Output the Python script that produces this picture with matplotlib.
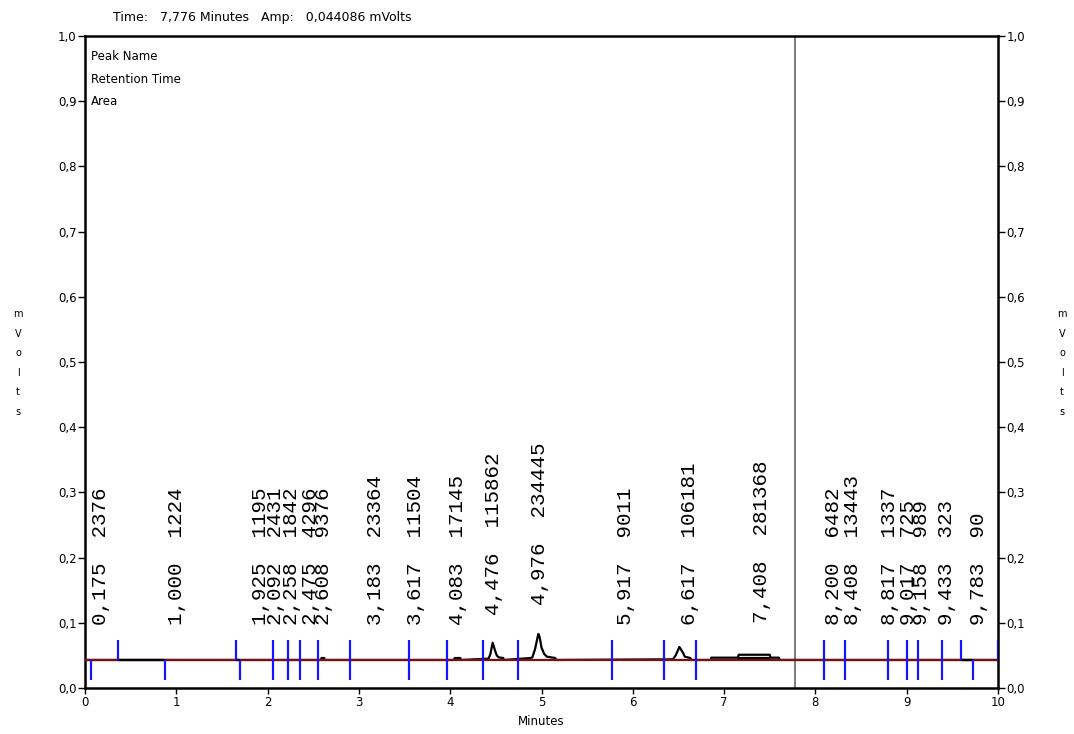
import numpy as np
import matplotlib
matplotlib.use("Agg")
import matplotlib.pyplot as plt
from matplotlib.ticker import FuncFormatter

# detector trace (minutes, mVolts)
trace_t = [0.0, 2.585, 2.59, 2.62, 2.625, 4.04, 4.05, 4.11, 4.12, 4.42, 4.44, 4.465,
           4.49, 4.51, 4.53, 4.58, 4.59, 4.88, 4.90, 4.93, 4.965, 4.98, 5.00, 5.03,
           5.06, 5.15, 5.16, 6.44, 6.47, 6.51, 6.55, 6.57, 6.63, 6.64, 6.85, 6.86,
           7.15, 7.16, 7.50, 7.51, 7.60, 7.61, 10.0]
trace_v = [0.043, 0.043, 0.046, 0.046, 0.043, 0.043, 0.046, 0.046, 0.043, 0.045, 0.052, 0.0695,
           0.058, 0.050, 0.047, 0.046, 0.043, 0.046, 0.047, 0.060, 0.083, 0.078, 0.062, 0.052,
           0.048, 0.046, 0.043, 0.044, 0.050, 0.063, 0.054, 0.048, 0.046, 0.043, 0.043, 0.0465,
           0.0465, 0.051, 0.051, 0.0465, 0.0465, 0.043, 0.043]

baseline_level = 0.043

# integration baselines drawn in black
seg_start = [0.365, 1.655, 9.59, 7.15]
seg_end = [0.88, 1.70, 9.73, 7.50]
seg_level = [0.043, 0.043, 0.043, 0.0465]

# peak start/stop markers
mark_t = [0.07, 0.365, 0.88, 1.655, 1.70, 2.055, 2.22, 2.35, 2.55, 2.90, 3.55, 3.97,
          4.36, 4.74, 5.775, 6.345, 6.69, 8.09, 8.32, 8.79, 9.0, 9.12, 9.39, 9.59, 9.73, 10.0]
mark_kind = ['down', 'up', 'down', 'up', 'down', 'full', 'full', 'full', 'full', 'full',
             'full', 'full', 'full', 'full', 'full', 'full', 'full', 'full', 'full', 'full',
             'full', 'full', 'full', 'up', 'down', 'up']

# peak labels
peak_rt = [0.175, 1.000, 1.925, 2.092, 2.258, 2.475, 2.608, 3.183, 3.617, 4.083, 4.476,
           4.976, 5.917, 6.617, 7.408, 8.200, 8.408, 8.817, 9.017, 9.158, 9.433, 9.783]
peak_rt_txt = ['0,175', '1,000', '1,925', '2,092', '2,258', '2,475', '2,608', '3,183',
               '3,617', '4,083', '4,476', '4,976', '5,917', '6,617', '7,408', '8,200',
               '8,408', '8,817', '9,017', '9,158', '9,433', '9,783']
peak_area = [2376, 1224, 1195, 2431, 1842, 4296, 9376, 23364, 11504, 17145, 115862,
             234445, 9011, 106181, 281368, 6482, 13443, 1337, 725, 989, 323, 90]

cursor_t = 7.776
y_ticks = [0.0, 0.1, 0.2, 0.3, 0.4, 0.5, 0.6, 0.7, 0.8, 0.9, 1.0]
x_ticks = [0, 1, 2, 3, 4, 5, 6, 7, 8, 9, 10]

fig = plt.figure(figsize=(10.74, 7.34), dpi=100, facecolor='white')
ax = fig.add_axes([85/1074, 46/734, 913/1074, 652/734])
ax.set_xlim(0, 10)
ax.set_ylim(0, 1.0)

ax.plot(trace_t, trace_v, color='black', lw=1.6, zorder=3)
ax.axhline(baseline_level, color='#7a1010', lw=1.6, zorder=4)
ax.hlines(seg_level, seg_start, seg_end, color='black', lw=1.6, zorder=5)

for t, k in zip(mark_t, mark_kind):
    lo = 0.012 if k in ('down', 'full') else baseline_level
    hi = 0.074 if k in ('up', 'full') else baseline_level
    ax.vlines(t, lo, hi, color='#1515ff', lw=1.6, zorder=6)

ax.axvline(cursor_t, color='#808080', lw=1.5, zorder=2)

for rt, rtxt, area in zip(peak_rt, peak_rt_txt, peak_area):
    apex = np.interp(rt, trace_t, trace_v)
    ybase = max(0.097, apex + 0.048)
    ax.text(rt, ybase, f'{rtxt}  {area}', rotation=90, ha='center', va='bottom',
            fontsize=15, family='Liberation Mono', color='black', zorder=7)

ax.text(0.07, 0.978, 'Peak Name\nRetention Time\nArea', transform=ax.transData,
        ha='left', va='top', fontsize=8.5, linespacing=1.95)

fig.text(113/1074, 1 - 18/734, 'Time:   7,776 Minutes   Amp:   0,044086 mVolts',
         ha='left', va='center', fontsize=9)

for xp in (18/1074, 1062/1074):
    fig.text(xp, 1 - 363/734, 'm\nV\no\nl\nt\ns', ha='center', va='center',
             fontsize=7, linespacing=2.2)

ax.set_xlabel('Minutes', fontsize=8.5, labelpad=4)

comma = FuncFormatter(lambda v, p: f'{v:.1f}'.replace('.', ','))
ax.set_yticks(y_ticks)
ax.set_xticks(x_ticks)
ax.yaxis.set_major_formatter(comma)
ax.tick_params(axis='y', which='both', direction='out', length=5, width=1,
               labelsize=8.5, left=True, right=True, labelleft=True, labelright=True, pad=1)
ax.tick_params(axis='x', direction='out', length=4, width=1, labelsize=8.5, pad=2)

for s in ax.spines.values():
    s.set_linewidth(1.8)
    s.set_color('black')

fig.savefig('out.png', dpi=100)
